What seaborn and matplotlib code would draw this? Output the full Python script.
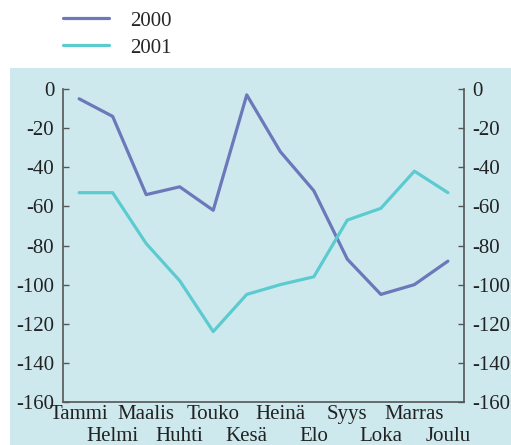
import pandas as pd
import seaborn as sns
import matplotlib.pyplot as plt
from matplotlib.patches import Rectangle

# Month labels (Finnish) and monthly values
months = ["Tammi", "Helmi", "Maalis", "Huhti", "Touko", "Kesä",
          "Heinä", "Elo", "Syys", "Loka", "Marras", "Joulu"]
values_2000 = [-5, -14, -54, -50, -62, -3, -32, -52, -87, -105, -100, -88]
values_2001 = [-53, -53, -79, -98, -124, -105, -100, -96, -67, -61, -42, -53]
y_ticks = [0, -20, -40, -60, -80, -100, -120, -140, -160]

df = pd.DataFrame({
    "month": list(range(len(months))) * 2,
    "value": values_2000 + values_2001,
    "year": ["2000"] * len(months) + ["2001"] * len(months),
})

sns.set_style("white")
plt.rcParams["font.family"] = ["Liberation Serif", "DejaVu Serif"]
fs = 15

fig = plt.figure(figsize=(5.11, 4.45), dpi=100)
bg = "#cde9ee"
fig.patches.append(Rectangle((10 / 511, 0), 1, 1 - 68 / 445, transform=fig.transFigure,
                             facecolor=bg, edgecolor="none", zorder=-1))

ax = fig.add_axes([62.7 / 511, 1 - 402 / 445, (464 - 62.7) / 511, (402 - 89) / 445])
ax.set_facecolor(bg)

sns.lineplot(data=df, x="month", y="value", hue="year", sort=False,
             palette={"2000": "#6b78b9", "2001": "#5ccbd0"}, linewidth=2.3, ax=ax)

ax.set_xlim(-0.49, 11.48)
ax.set_ylim(-160, 0)

# alternate month labels on two rows: even months as major ticks, odd as minor
ax.set_xticks(range(0, len(months), 2))
ax.set_xticklabels(months[0::2])
ax.set_xticks(range(1, len(months), 2), minor=True)
ax.set_xticklabels(months[1::2], minor=True)
ax.set_yticks(y_ticks)
ax.set_yticklabels([str(v) for v in y_ticks])
ax.set_xlabel("")
ax.set_ylabel("")

ax.tick_params(axis="both", which="both", direction="in", length=4, width=1,
               color="#555555", labelsize=fs, labelcolor="#222222")
ax.tick_params(axis="x", which="major", pad=2)
ax.tick_params(axis="x", which="minor", pad=18)
ax.tick_params(axis="y", pad=6, right=True, labelright=True, left=True)

for side in ["left", "right", "bottom"]:
    ax.spines[side].set_visible(True)
    ax.spines[side].set_color("#555555")
    ax.spines[side].set_linewidth(1.2)
ax.spines["top"].set_visible(False)

handles, labels = ax.get_legend_handles_labels()
ax.legend(handles, labels, loc="upper left", bbox_to_anchor=(61 / 511, 1 - 9 / 445),
          bbox_transform=fig.transFigure, frameon=False, fontsize=fs,
          handlelength=2.2, handletextpad=1.0, labelspacing=0.35,
          borderaxespad=0, borderpad=0.1)

fig.savefig("out.png", dpi=100)
